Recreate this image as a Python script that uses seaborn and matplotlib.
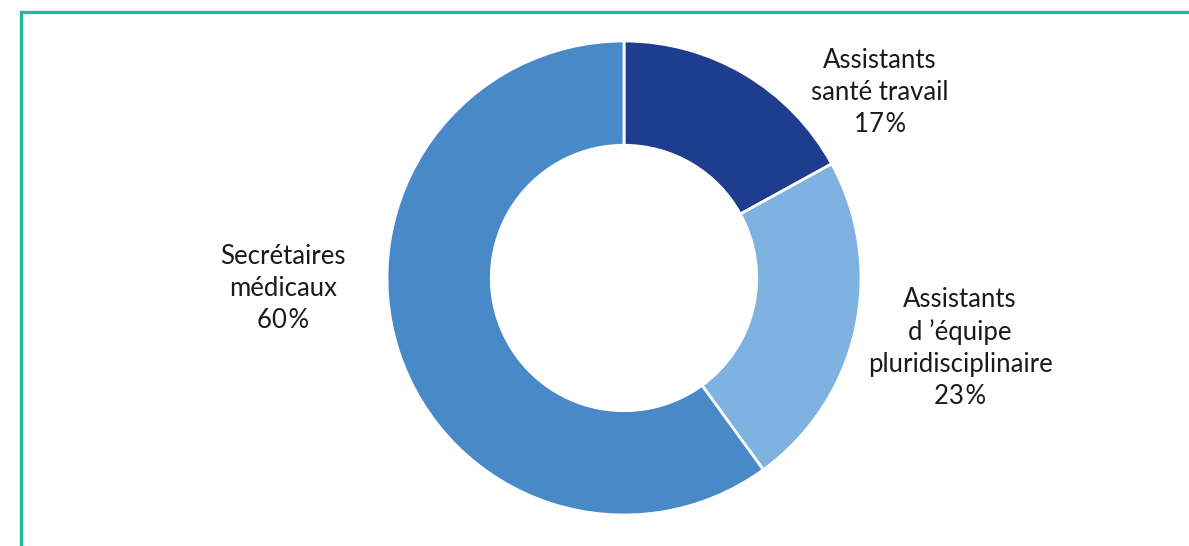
import matplotlib
matplotlib.use('Agg')
import matplotlib.pyplot as plt
import seaborn as sns

# données
categories = ['Assistants\nsanté travail', "Assistants\nd \u2019équipe\npluridisciplinaire", 'Secrétaires\nmédicaux']
parts = [17, 23, 60]
couleurs = ['#1f3d8f', '#7db2e1', '#4889c8']

sns.set_theme(style='white')
plt.rcParams['font.family'] = ['Lato', 'DejaVu Sans']

fig = plt.figure(figsize=(11.89, 5.46), dpi=100)
ax = fig.add_axes([0, 0, 1, 1])

ax.pie(parts, colors=couleurs, startangle=90, counterclock=False,
       center=(624, 268), radius=237,
       wedgeprops=dict(width=237 * 0.44, edgecolor='white', linewidth=2))

# étiquettes
positions = [(880, 453), (960, 198), (283, 258)]
for cat, val, (x, y) in zip(categories, parts, positions):
    ax.text(x, y, f'{cat}\n{val}\u200a%', ha='center', va='center',
            fontsize=18.5, color='#1a1a1a', linespacing=1.35)

ax.set_xlim(0, 1189)
ax.set_ylim(0, 546)
ax.set_aspect('equal')
ax.axis('off')

# cadre
ax.plot([20.5, 20.5, 1189], [0, 534.5, 534.5], color='#20b8a0', lw=2.4,
        solid_joinstyle='miter', clip_on=False)

fig.savefig('out.png', dpi=100)
